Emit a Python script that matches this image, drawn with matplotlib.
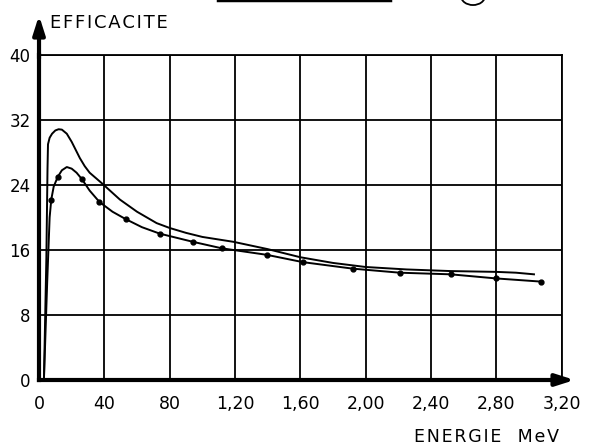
import matplotlib
matplotlib.use('Agg')
import matplotlib.pyplot as plt
from matplotlib.patches import Circle

# courbes d'efficacite en fonction de l'energie (MeV)
e_haut = [0.03, 0.045, 0.052, 0.055, 0.065, 0.08, 0.10, 0.12, 0.14, 0.17, 0.20,
          0.22, 0.25, 0.28, 0.31, 0.385, 0.495, 0.60, 0.72, 0.80, 0.90, 1.00,
          1.19, 1.40, 1.60, 1.80, 2.00, 2.25, 2.52, 2.80, 2.92, 3.03]
eff_haut = [0.0, 15.0, 26.0, 29.0, 29.8, 30.3, 30.7, 30.85, 30.8, 30.3, 29.3,
            28.5, 27.3, 26.3, 25.5, 24.2, 22.2, 20.7, 19.3, 18.7, 18.1, 17.6,
            17.0, 16.1, 15.1, 14.4, 13.9, 13.6, 13.4, 13.3, 13.2, 13.0]

# points mesures
e_mes = [0.075, 0.115, 0.263, 0.37, 0.53, 0.74, 0.942, 1.119, 1.394, 1.615,
         1.92, 2.208, 2.52, 2.795, 3.076]
eff_mes = [22.2, 25.0, 24.7, 21.9, 19.8, 18.0, 17.0, 16.2, 15.4, 14.5,
           13.7, 13.2, 13.0, 12.5, 12.1]

# courbe basse tracee par les points mesures
e_bas = [0.03, 0.05, 0.065, 0.075, 0.09, 0.115, 0.14, 0.17, 0.20, 0.23, 0.263,
         0.31, 0.37, 0.45, 0.53, 0.63, 0.74, 0.942, 1.119, 1.394, 1.615, 1.92,
         2.208, 2.52, 2.795, 3.076]
eff_bas = [0.0, 12.0, 20.0, 22.2, 23.8, 25.0, 25.8, 26.2, 26.0, 25.5, 24.7,
           23.3, 21.9, 20.7, 19.8, 18.8, 18.0, 17.0, 16.2, 15.4, 14.5, 13.7,
           13.2, 13.0, 12.5, 12.1]

xticks = [0, 0.4, 0.8, 1.2, 1.6, 2.0, 2.4, 2.8, 3.2]
xlabels = ['0', '40', '80', '1,20', '1,60', '2,00', '2,40', '2,80', '3,20']
yticks = [0, 8, 16, 24, 32, 40]
ylabels = ['0', '8', '16', '24', '32', '40']

plt.rcParams['font.family'] = ['DejaVu Sans']

fig = plt.figure(figsize=(5.92, 4.46), dpi=100)
ax = fig.add_axes([0.0659, 0.148, 0.883, 0.729])

ax.set_xlim(0, 3.2)
ax.set_ylim(0, 40)
ax.set_xticks(xticks)
ax.set_xticklabels(xlabels, fontsize=12.5)
ax.set_yticks(yticks)
ax.set_yticklabels(ylabels, fontsize=12)
ax.tick_params(length=0, pad=6)
ax.tick_params(axis='x', pad=11)
ax.grid(True, color='black', lw=1.3)
ax.set_axisbelow(True)

for s in ['top', 'right']:
    ax.spines[s].set_linewidth(1.3)
for s in ['left', 'bottom']:
    ax.spines[s].set_linewidth(3)

ax.plot(e_haut, eff_haut, color='black', lw=1.4)
ax.plot(e_bas, eff_bas, color='black', lw=1.4)
ax.plot(e_mes, eff_mes, 'o', color='black', ms=3.5)

# fleches des axes
ax.annotate('', xy=(0, 1.13), xytext=(0, 0.98), xycoords='axes fraction',
            arrowprops=dict(arrowstyle='-|>,head_width=0.35,head_length=1.1',
                            color='black', lw=3), annotation_clip=False)
ax.annotate('', xy=(1.03, 0), xytext=(0.98, 0), xycoords='axes fraction',
            arrowprops=dict(arrowstyle='-|>,head_width=0.35,head_length=1.1',
                            color='black', lw=3), annotation_clip=False)

hair = '\u200a'
fig.text(0.085, 0.948, hair.join('EFFICACITE'), fontsize=13, va='center')
fig.text(0.70, 0.02, hair.join('ENERGIE  MeV'), fontsize=12.5, va='center')

# restes du titre en haut
fig.add_artist(plt.Line2D([218 / 592, 390 / 592], [0.999, 0.999], color='black', lw=2.5))
fig.add_artist(Circle((473 / 592, 1.0 + 4 / 446), 12 / 592, transform=fig.transFigure,
                      fill=False, color='black', lw=1.3))

fig.savefig('out.png', dpi=100)
